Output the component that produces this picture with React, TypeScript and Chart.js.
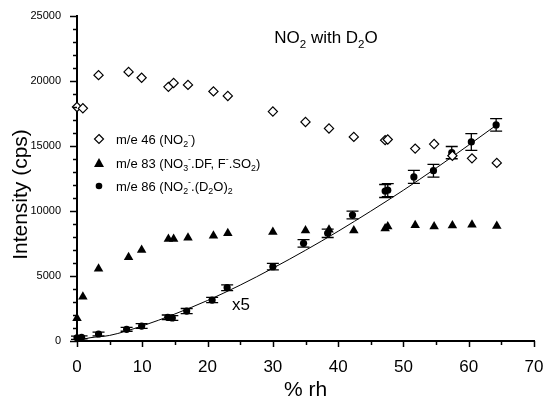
import React, { useEffect, useRef } from "react";
import { Chart, registerables } from "chart.js";

Chart.register(...registerables);

// ---- data ----
const xDiamond = [0, 0.9, 3.3, 7.9, 9.9, 14.0, 14.8, 17.0, 20.9, 23.1, 30.0, 35.0, 38.6, 42.4, 47.2, 47.6, 51.8, 54.7, 57.5, 60.5, 64.3];
const yDiamond = [18000, 17900, 20450, 20700, 20250, 19550, 19850, 19700, 19200, 18850, 17650, 16850, 16350, 15700, 15450, 15500, 14800, 15150, 14250, 14050, 13700];

const xTriangle = [0, 0.9, 3.3, 7.9, 9.9, 14.0, 14.8, 17.0, 20.9, 23.1, 30.0, 35.0, 38.6, 42.4, 47.2, 47.6, 51.8, 54.7, 57.5, 60.5, 64.3];
const yTriangle = [1750, 3400, 5550, 6450, 7000, 7850, 7850, 7950, 8100, 8280, 8380, 8500, 8550, 8500, 8650, 8800, 8900, 8800, 8880, 8950, 8850];

const xCircle = [0, 0.7, 3.3, 7.6, 9.9, 13.9, 14.6, 16.8, 20.7, 23.0, 30.0, 34.7, 38.4, 42.2, 47.2, 47.6, 51.6, 54.6, 57.4, 60.4, 64.2];
const yCircle = [250, 280, 540, 900, 1150, 1820, 1770, 2300, 3150, 4100, 5720, 7510, 8280, 9690, 11540, 11600, 12620, 13100, 14490, 15310, 16620];
const errCircle = [120, 120, 150, 150, 180, 180, 180, 200, 200, 220, 250, 290, 320, 300, 500, 500, 500, 490, 470, 640, 480];

const xFit = [0.3, 2, 5, 10, 15, 20, 25, 30, 35, 40, 45, 50, 55, 60, 64.5];
const yFit = [60, 250, 430, 1160, 2080, 3120, 4300, 5600, 6980, 8440, 9990, 11600, 13300, 15070, 16700];

const xTickLabels = ["0", "10", "20", "30", "40", "50", "60", "70"];
const yTickLabels = ["0", "5000", "10000", "15000", "20000", "25000"];

type Seg = [string, "n" | "sub" | "sup"];
const legendLabels: Seg[][] = [
  [["m/e 46 (NO", "n"], ["2", "sub"], ["-", "sup"], [")", "n"]],
  [["m/e 83 (NO", "n"], ["3", "sub"], ["-", "sup"], [".DF, F", "n"], ["-", "sup"], [".SO", "n"], ["2", "sub"], [")", "n"]],
  [["m/e 86 (NO", "n"], ["2", "sub"], ["-", "sup"], [".(D", "n"], ["2", "sub"], ["O)", "n"], ["2", "sub"]],
];
const titleSegs: Seg[] = [["NO", "n"], ["2", "sub"], [" with D", "n"], ["2", "sub"], ["O", "n"]];
const scaleNote = "x5";
const xTitle = "% rh";
const yTitle = "Intensity (cps)";

const FONT = "'Liberation Sans', Arial, Helvetica, sans-serif";

function drawRich(ctx: CanvasRenderingContext2D, segs: Seg[], x: number, y: number, size: number, align: "left" | "center" = "left") {
  const measure = () => {
    let w = 0;
    for (const [t, s] of segs) {
      const fs = s === "n" ? size : size * 0.68;
      ctx.font = `${fs}px ${FONT}`;
      w += ctx.measureText(t).width;
    }
    return w;
  };
  let cx = align === "center" ? x - measure() / 2 : x;
  ctx.textBaseline = "alphabetic";
  ctx.textAlign = "left";
  for (const [t, s] of segs) {
    const fs = s === "n" ? size : size * 0.68;
    ctx.font = `${fs}px ${FONT}`;
    const dy = s === "sub" ? size * 0.28 : s === "sup" ? -size * 0.45 : 0;
    ctx.fillText(t, cx, y + dy);
    cx += ctx.measureText(t).width;
  }
}

const overlayPlugin = {
  id: "overlay",
  beforeDatasetsDraw(chart: any) {
    const ctx = chart.ctx as CanvasRenderingContext2D;
    const xs = chart.scales.x;
    const ys = chart.scales.y;
    ctx.save();
    ctx.strokeStyle = "#000";
    ctx.lineWidth = 1.3;
    for (let i = 0; i < xCircle.length; i++) {
      const px = xs.getPixelForValue(xCircle[i]);
      const top = ys.getPixelForValue(yCircle[i] + errCircle[i]);
      const bot = ys.getPixelForValue(yCircle[i] - errCircle[i]);
      ctx.beginPath();
      ctx.moveTo(px, top);
      ctx.lineTo(px, bot);
      ctx.moveTo(px - 6, top);
      ctx.lineTo(px + 6, top);
      ctx.moveTo(px - 6, bot);
      ctx.lineTo(px + 6, bot);
      ctx.stroke();
    }
    ctx.restore();
  },
  afterDraw(chart: any) {
    const ctx = chart.ctx as CanvasRenderingContext2D;
    const xs = chart.scales.x;
    const ys = chart.scales.y;
    const area = chart.chartArea;
    ctx.save();
    ctx.strokeStyle = "#000";
    ctx.fillStyle = "#000";
    ctx.lineWidth = 1.5;
    // y ticks
    for (let v = 0; v <= 25000; v += 1000) {
      const py = Math.round(ys.getPixelForValue(v)) + 0.5;
      const len = v % 5000 === 0 ? 7 : 4;
      ctx.beginPath();
      ctx.moveTo(area.left, py);
      ctx.lineTo(area.left - len, py);
      ctx.stroke();
    }
    // x ticks
    for (let v = 0; v <= 70; v += 5) {
      const px = Math.round(xs.getPixelForValue(v)) + 0.5;
      const len = v % 10 === 0 ? 6 : 4;
      ctx.beginPath();
      ctx.moveTo(px, area.bottom);
      ctx.lineTo(px, area.bottom + len);
      ctx.stroke();
    }

    // legend
    const rows = [139, 163, 186];
    const sx = 99;
    ctx.lineWidth = 1.2;
    ctx.fillStyle = "#fff";
    ctx.beginPath();
    ctx.moveTo(sx, rows[0] - 4.5);
    ctx.lineTo(sx + 4.5, rows[0]);
    ctx.lineTo(sx, rows[0] + 4.5);
    ctx.lineTo(sx - 4.5, rows[0]);
    ctx.closePath();
    ctx.fill();
    ctx.stroke();
    ctx.fillStyle = "#000";
    ctx.beginPath();
    ctx.moveTo(sx, rows[1] - 5);
    ctx.lineTo(sx + 5, rows[1] + 4);
    ctx.lineTo(sx - 5, rows[1] + 4);
    ctx.closePath();
    ctx.fill();
    ctx.beginPath();
    ctx.arc(sx, rows[2], 3.3, 0, Math.PI * 2);
    ctx.fill();
    for (let i = 0; i < legendLabels.length; i++) {
      drawRich(ctx, legendLabels[i], 116, rows[i] + 4.5, 13);
    }

    // title
    drawRich(ctx, titleSegs, 326, 43, 17, "center");

    // x5 note
    ctx.font = `17px ${FONT}`;
    ctx.textAlign = "left";
    ctx.textBaseline = "alphabetic";
    ctx.fillText(scaleNote, 232, 310);

    // axis titles
    ctx.font = `21px ${FONT}`;
    ctx.textAlign = "center";
    ctx.fillText(xTitle, 305.5, 396);
    ctx.save();
    ctx.translate(27, 194.5);
    ctx.rotate(-Math.PI / 2);
    ctx.textBaseline = "alphabetic";
    ctx.fillText(yTitle, 0, 0);
    ctx.restore();

    ctx.restore();
  },
};

export default function App() {
  const ref = useRef<HTMLCanvasElement | null>(null);
  useEffect(() => {
    if (!ref.current) return;
    const chart = new Chart(ref.current, {
      type: "scatter",
      data: {
        datasets: [
          {
            label: "m/e 46",
            data: xDiamond.map((x, i) => ({ x, y: yDiamond[i] })),
            pointStyle: "rectRot",
            pointRadius: 4.6,
            backgroundColor: "#fff",
            borderColor: "#000",
            borderWidth: 1.2,
            clip: false,
            order: 1,
          } as any,
          {
            label: "m/e 83",
            data: xTriangle.map((x, i) => ({ x, y: yTriangle[i] })),
            pointStyle: "triangle",
            pointRadius: 5.5,
            backgroundColor: "#000",
            borderColor: "#000",
            borderWidth: 0,
            clip: false,
            order: 2,
          } as any,
          {
            label: "m/e 86",
            data: xCircle.map((x, i) => ({ x, y: yCircle[i] })),
            pointStyle: "circle",
            pointRadius: 3.6,
            backgroundColor: "#000",
            borderColor: "#000",
            borderWidth: 0,
            clip: false,
            order: 3,
          } as any,
          {
            type: "line",
            label: "fit",
            data: xFit.map((x, i) => ({ x, y: yFit[i] })),
            borderColor: "#000",
            borderWidth: 1,
            pointRadius: 0,
            showLine: true,
            fill: false,
            tension: 0.4,
            cubicInterpolationMode: "monotone",
            clip: false,
            order: 10,
          } as any,
        ],
      },
      options: {
        animation: false,
        responsive: true,
        maintainAspectRatio: false,
        layout: { padding: { left: 0, top: 16, right: 10, bottom: 0 } },
        plugins: { legend: { display: false }, tooltip: { enabled: false } },
        scales: {
          x: {
            type: "linear",
            min: 0,
            max: 70,
            grid: { display: false },
            border: { display: true, color: "#000", width: 2 },
            ticks: {
              stepSize: 10,
              color: "#000",
              padding: 8,
              font: { family: FONT, size: 17 },
              callback: (v: any) => xTickLabels[Math.round(Number(v) / 10)] ?? "",
            },
            afterFit: (s: any) => {
              s.height = 57;
              s.paddingLeft = 0;
              s.paddingRight = 0;
            },
          },
          y: {
            type: "linear",
            min: 0,
            max: 25000,
            grid: { display: false },
            border: { display: true, color: "#000", width: 2 },
            ticks: {
              stepSize: 5000,
              color: "#000",
              padding: 8,
              font: { family: FONT, size: 11 },
              callback: (v: any) => yTickLabels[Math.round(Number(v) / 5000)] ?? "",
            },
            afterFit: (s: any) => {
              s.width = 77;
              s.paddingTop = 0;
              s.paddingBottom = 0;
            },
          },
        },
      },
      plugins: [overlayPlugin],
    });
    return () => chart.destroy();
  }, []);
  return (
    <div style={{ position: "absolute", left: 0, top: 0, width: 544, height: 398, background: "#fff" }}>
      <canvas ref={ref} />
    </div>
  );
}
